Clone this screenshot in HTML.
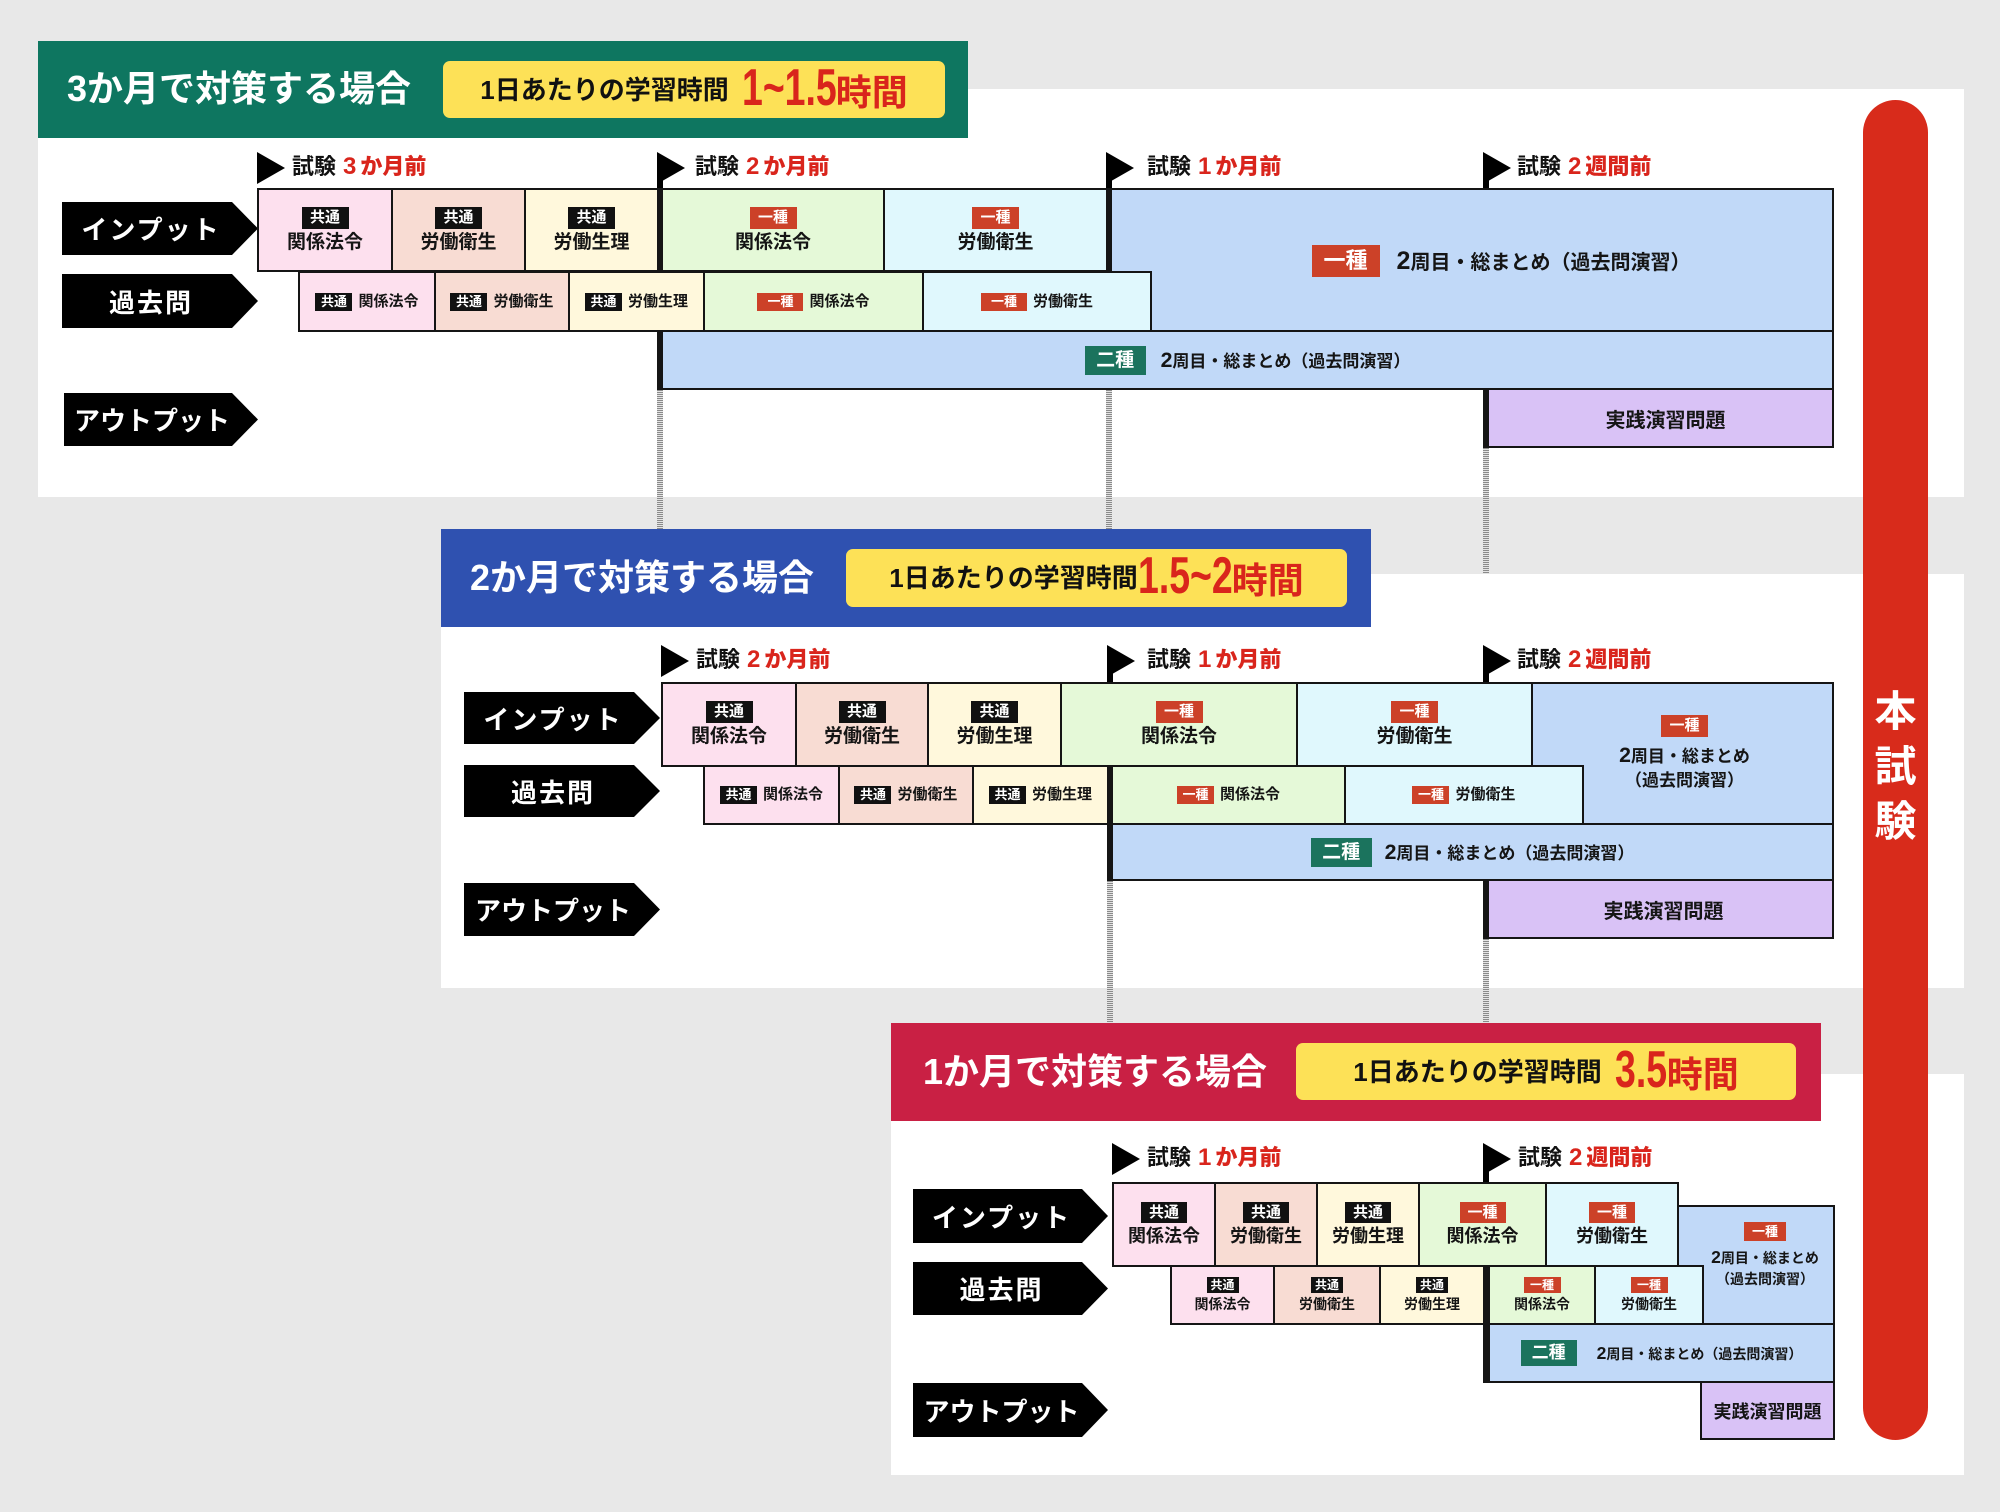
<!DOCTYPE html>
<html><head><meta charset="utf-8">
<style>
*{margin:0;padding:0}
body{width:2000px;height:1512px;background:#e8e8e8;position:relative;overflow:hidden;font-family:"Liberation Sans","Noto Sans CJK JP",sans-serif;font-weight:700;color:#1a1a1a}
.panel{position:absolute;background:#fff}
.hdr{position:absolute}
.ttl{position:absolute;color:#fff;font-size:36px;line-height:98px;white-space:nowrap}
.yel{position:absolute;background:#fde157;border-radius:7px;display:flex;align-items:center;justify-content:center;white-space:nowrap}
.yk{font-size:26px;line-height:30px;color:#111}
.yr{display:flex;align-items:baseline;color:#d9251c;position:relative;top:-2px}
.dg{display:inline-block;font-size:52px;line-height:1;white-space:nowrap}
.dg span{display:inline-block;transform:scaleX(.72);transform-origin:0 50%}
.jk{font-size:36px;line-height:1}
.fl{position:absolute;width:0;height:0;border-top:16px solid transparent;border-bottom:16px solid transparent;border-left:28px solid #000}
.po{position:absolute;width:6px;background:#000}
.ms{position:absolute;font-size:22px;line-height:32px;white-space:nowrap;color:#111}
.ms b{color:#d9251c;margin-left:7px}
.ms i{font-style:normal;font-size:24px;margin-right:4px}
.lb{position:absolute;background:#000;color:#fff;font-size:26px;letter-spacing:2px;clip-path:polygon(0 0,calc(100% - 26px) 0,100% 50%,calc(100% - 26px) 100%,0 100%);display:flex;align-items:center;justify-content:center;padding-right:18px;box-sizing:border-box;white-space:nowrap}
.lb.o{letter-spacing:0}
.bx{position:absolute;box-sizing:border-box;border:2px solid #151515;display:flex;flex-direction:column;align-items:center;justify-content:center;white-space:nowrap;color:#151515}
.h{flex-direction:row}
.pk{background:#fde0ee}.sa{background:#f8dcd3}.cr{background:#fff8dc}.gr{background:#e5f9d8}.cy{background:#e0f8fd}.bl{background:#c1d9f8}.pu{background:#d9c2f6}
.tk{border-left-width:6px}
.tk7{border-left-width:7px}
.bg{display:block;color:#fff;text-align:center;flex:none}
.k{background:#111}.r1{background:#cc4128}.r2{background:#1b735d}
.bA{width:47px;height:22px;font-size:15px;line-height:22px;margin-bottom:3px}
.tA{font-size:19px;line-height:22px}
.bB{width:37px;height:18px;font-size:13px;line-height:18px;margin-right:6px}
.bB2{width:46px;height:18px;font-size:13px;line-height:18px;margin-right:6px}
.tB{font-size:15px;line-height:18px}
.bC{width:46px;height:21px;font-size:15px;line-height:21px;margin-bottom:3px}
.tC{font-size:18px;line-height:21px}
.bD{width:32px;height:16px;font-size:12px;line-height:16px;margin-bottom:3px}
.tD{font-size:14px;line-height:17px}
.n2{font-size:1.25em}
.ds{position:absolute;width:6px;background:repeating-linear-gradient(#8a8a8a 0 1px,#e4e4e4 1px 2px)}
.pill{position:absolute;left:1863px;top:100px;width:65px;height:1340px;border-radius:33px;background:#d82b1b}
.pt{position:absolute;left:1863px;top:684px;width:65px;text-align:center;color:#fff;font-size:42px;line-height:55px}
</style></head><body>

<!-- ===== Section 1 ===== -->
<div class="panel" style="left:38px;top:89px;width:1926px;height:408px"></div>
<div class="hdr" style="left:38px;top:41px;width:930px;height:97px;background:#0e7660"></div>
<div class="ttl" style="left:67px;top:40px">3か月で対策する場合</div>
<div class="yel" style="left:443px;top:61px;width:502px;height:57px"><span class="yk">1日あたりの学習時間</span><span class="yr" style="margin-left:13px"><span class="dg" style="width:94px"><span>1~1.5</span></span><span class="jk">時間</span></span></div>

<!-- ===== Section 2 ===== -->
<div class="panel" style="left:441px;top:574px;width:1523px;height:414px"></div>
<div class="hdr" style="left:441px;top:529px;width:930px;height:98px;background:#2f51b0"></div>
<div class="ttl" style="left:470px;top:529px">2か月で対策する場合</div>
<div class="yel" style="left:846px;top:549px;width:501px;height:58px"><span class="yk">1日あたりの学習時間</span><span class="yr"><span class="dg" style="width:94px"><span>1.5~2</span></span><span class="jk">時間</span></span></div>

<!-- ===== Section 3 ===== -->
<div class="panel" style="left:891px;top:1074px;width:1073px;height:401px"></div>
<div class="hdr" style="left:891px;top:1023px;width:930px;height:98px;background:#c92044"></div>
<div class="ttl" style="left:923px;top:1023px">1か月で対策する場合</div>
<div class="yel" style="left:1296px;top:1043px;width:500px;height:57px"><span class="yk">1日あたりの学習時間</span><span class="yr" style="margin-left:13px"><span class="dg" style="width:52px"><span>3.5</span></span><span class="jk">時間</span></span></div>

<!-- dashed connectors -->
<div class="ds" style="left:657px;top:390px;height:139px"></div>
<div class="ds" style="left:1106px;top:390px;height:139px"></div>
<div class="ds" style="left:1483px;top:448px;height:126px"></div>
<div class="ds" style="left:1107px;top:881px;height:142px"></div>
<div class="ds" style="left:1483px;top:939px;height:84px"></div>

<!-- red pill -->
<div class="pill"></div>
<div class="pt">本<br>試<br>験</div>

<!-- ===== S1 content ===== -->
<div class="fl" style="left:257px;top:152px"></div>
<div class="fl" style="left:657px;top:152px"></div>
<div class="fl" style="left:1106px;top:152px"></div>
<div class="fl" style="left:1483px;top:152px"></div>
<div class="po" style="left:657px;top:168px;height:22px"></div>
<div class="po" style="left:1106px;top:168px;height:22px"></div>
<div class="po" style="left:1483px;top:168px;height:22px"></div>
<div class="ms" style="left:292px;top:151px">試験<b><i>3</i>か月前</b></div>
<div class="ms" style="left:695px;top:151px">試験<b><i>2</i>か月前</b></div>
<div class="ms" style="left:1147px;top:151px">試験<b><i>1</i>か月前</b></div>
<div class="ms" style="left:1517px;top:151px">試験<b><i>2</i>週間前</b></div>

<div class="lb" style="left:62px;top:202px;width:196px;height:53px">インプット</div>
<div class="lb" style="left:62px;top:274px;width:196px;height:54px">過去問</div>
<div class="lb o" style="left:64px;top:393px;width:194px;height:53px">アウトプット</div>

<div class="bx pk" style="left:257px;top:188px;width:136px;height:84px"><span class="bg k bA">共通</span><span class="tA">関係法令</span></div>
<div class="bx sa" style="left:391px;top:188px;width:135px;height:84px"><span class="bg k bA">共通</span><span class="tA">労働衛生</span></div>
<div class="bx cr" style="left:524px;top:188px;width:135px;height:84px"><span class="bg k bA">共通</span><span class="tA">労働生理</span></div>
<div class="bx gr tk" style="left:657px;top:188px;width:228px;height:84px"><span class="bg r1 bA">一種</span><span class="tA">関係法令</span></div>
<div class="bx cy" style="left:883px;top:188px;width:225px;height:84px"><span class="bg r1 bA">一種</span><span class="tA">労働衛生</span></div>
<div class="bx bl tk h" style="left:1106px;top:188px;width:728px;height:145px;padding-left:58px"><span class="bg r1" style="width:68px;height:32px;font-size:22px;line-height:32px;margin-right:17px">一種</span><span style="font-size:20px"><span class="n2">2</span>周目・総まとめ（過去問演習）</span></div>

<div class="bx pk h" style="left:298px;top:271px;width:138px;height:61px"><span class="bg k bB">共通</span><span class="tB">関係法令</span></div>
<div class="bx sa h" style="left:434px;top:271px;width:136px;height:61px"><span class="bg k bB">共通</span><span class="tB">労働衛生</span></div>
<div class="bx cr h" style="left:568px;top:271px;width:137px;height:61px"><span class="bg k bB">共通</span><span class="tB">労働生理</span></div>
<div class="bx gr h" style="left:703px;top:271px;width:221px;height:61px"><span class="bg r1 bB2">一種</span><span class="tB">関係法令</span></div>
<div class="bx cy h" style="left:922px;top:271px;width:230px;height:61px"><span class="bg r1 bB2">一種</span><span class="tB">労働衛生</span></div>

<div class="bx bl tk h" style="left:657px;top:330px;width:1177px;height:60px"><span class="bg r2" style="width:61px;height:29px;font-size:19px;line-height:29px;margin-right:15px">二種</span><span style="font-size:17px"><span class="n2">2</span>周目・総まとめ（過去問演習）</span></div>
<div class="bx pu tk" style="left:1483px;top:388px;width:351px;height:60px"><span style="font-size:20px;margin-left:10px">実践演習問題</span></div>

<!-- ===== S2 content ===== -->
<div class="fl" style="left:661px;top:645px"></div>
<div class="fl" style="left:1107px;top:645px"></div>
<div class="fl" style="left:1483px;top:645px"></div>
<div class="po" style="left:1107px;top:661px;height:23px"></div>
<div class="po" style="left:1483px;top:661px;height:23px"></div>
<div class="ms" style="left:696px;top:644px">試験<b><i>2</i>か月前</b></div>
<div class="ms" style="left:1147px;top:644px">試験<b><i>1</i>か月前</b></div>
<div class="ms" style="left:1517px;top:644px">試験<b><i>2</i>週間前</b></div>

<div class="lb" style="left:464px;top:692px;width:196px;height:52px">インプット</div>
<div class="lb" style="left:464px;top:765px;width:196px;height:52px">過去問</div>
<div class="lb o" style="left:464px;top:883px;width:196px;height:53px">アウトプット</div>

<div class="bx pk" style="left:661px;top:682px;width:136px;height:85px"><span class="bg k bA">共通</span><span class="tA">関係法令</span></div>
<div class="bx sa" style="left:795px;top:682px;width:134px;height:85px"><span class="bg k bA">共通</span><span class="tA">労働衛生</span></div>
<div class="bx cr" style="left:927px;top:682px;width:135px;height:85px"><span class="bg k bA">共通</span><span class="tA">労働生理</span></div>
<div class="bx gr" style="left:1060px;top:682px;width:238px;height:85px"><span class="bg r1 bA">一種</span><span class="tA">関係法令</span></div>
<div class="bx cy" style="left:1296px;top:682px;width:237px;height:85px"><span class="bg r1 bA">一種</span><span class="tA">労働衛生</span></div>
<div class="bx bl" style="left:1531px;top:682px;width:303px;height:143px;padding-left:4px"><span class="bg r1" style="width:47px;height:22px;font-size:15px;line-height:22px;margin-bottom:6px">一種</span><span style="font-size:17px;line-height:24px"><span class="n2">2</span>周目・総まとめ</span><span style="font-size:17px;line-height:24px">（過去問演習）</span></div>

<div class="bx pk h" style="left:703px;top:765px;width:137px;height:60px"><span class="bg k bB">共通</span><span class="tB">関係法令</span></div>
<div class="bx sa h" style="left:838px;top:765px;width:136px;height:60px"><span class="bg k bB">共通</span><span class="tB">労働衛生</span></div>
<div class="bx cr h" style="left:972px;top:765px;width:137px;height:60px"><span class="bg k bB">共通</span><span class="tB">労働生理</span></div>
<div class="bx gr tk h" style="left:1107px;top:765px;width:239px;height:60px"><span class="bg r1 bB">一種</span><span class="tB">関係法令</span></div>
<div class="bx cy h" style="left:1344px;top:765px;width:240px;height:60px"><span class="bg r1 bB">一種</span><span class="tB">労働衛生</span></div>

<div class="bx bl tk h" style="left:1107px;top:823px;width:727px;height:58px"><span class="bg r2" style="width:61px;height:29px;font-size:19px;line-height:29px;margin-right:13px">二種</span><span style="font-size:17px"><span class="n2">2</span>周目・総まとめ（過去問演習）</span></div>
<div class="bx pu tk" style="left:1483px;top:879px;width:351px;height:60px"><span style="font-size:20px;margin-left:6px">実践演習問題</span></div>

<!-- ===== S3 content ===== -->
<div class="fl" style="left:1112px;top:1143px"></div>
<div class="fl" style="left:1483px;top:1143px"></div>
<div class="po" style="left:1483px;top:1159px;height:25px"></div>
<div class="ms" style="left:1147px;top:1142px">試験<b><i>1</i>か月前</b></div>
<div class="ms" style="left:1518px;top:1142px">試験<b><i>2</i>週間前</b></div>

<div class="lb" style="left:913px;top:1189px;width:195px;height:54px">インプット</div>
<div class="lb" style="left:913px;top:1262px;width:195px;height:53px">過去問</div>
<div class="lb o" style="left:913px;top:1383px;width:195px;height:54px">アウトプット</div>

<div class="bx pk" style="left:1112px;top:1182px;width:104px;height:85px"><span class="bg k bC">共通</span><span class="tC">関係法令</span></div>
<div class="bx sa" style="left:1214px;top:1182px;width:104px;height:85px"><span class="bg k bC">共通</span><span class="tC">労働衛生</span></div>
<div class="bx cr" style="left:1316px;top:1182px;width:104px;height:85px"><span class="bg k bC">共通</span><span class="tC">労働生理</span></div>
<div class="bx gr" style="left:1418px;top:1182px;width:129px;height:85px"><span class="bg r1 bC">一種</span><span class="tC">関係法令</span></div>
<div class="bx cy" style="left:1545px;top:1182px;width:134px;height:85px"><span class="bg r1 bC">一種</span><span class="tC">労働衛生</span></div>
<div class="bx bl" style="left:1677px;top:1205px;width:158px;height:120px;padding-left:18px;padding-bottom:18px"><span class="bg r1" style="width:42px;height:19px;font-size:13px;line-height:19px;margin-bottom:6px">一種</span><span style="font-size:14px;line-height:21px"><span class="n2">2</span>周目・総まとめ</span><span style="font-size:14px;line-height:21px">（過去問演習）</span></div>

<div class="bx pk" style="left:1170px;top:1265px;width:105px;height:60px"><span class="bg k bD">共通</span><span class="tD">関係法令</span></div>
<div class="bx sa" style="left:1273px;top:1265px;width:108px;height:60px"><span class="bg k bD">共通</span><span class="tD">労働衛生</span></div>
<div class="bx cr" style="left:1379px;top:1265px;width:106px;height:60px"><span class="bg k bD">共通</span><span class="tD">労働生理</span></div>
<div class="bx gr tk7" style="left:1483px;top:1265px;width:113px;height:60px"><span class="bg r1 bD" style="width:37px">一種</span><span class="tD">関係法令</span></div>
<div class="bx cy" style="left:1594px;top:1265px;width:110px;height:60px"><span class="bg r1 bD" style="width:37px">一種</span><span class="tD">労働衛生</span></div>

<div class="bx bl tk7 h" style="left:1483px;top:1323px;width:352px;height:60px"><span class="bg r2" style="width:56px;height:26px;font-size:17px;line-height:26px;margin-right:20px">二種</span><span style="font-size:14px"><span class="n2">2</span>周目・総まとめ（過去問演習）</span></div>
<div class="bx pu" style="left:1700px;top:1381px;width:135px;height:59px"><span style="font-size:18px">実践演習問題</span></div>

</body></html>
